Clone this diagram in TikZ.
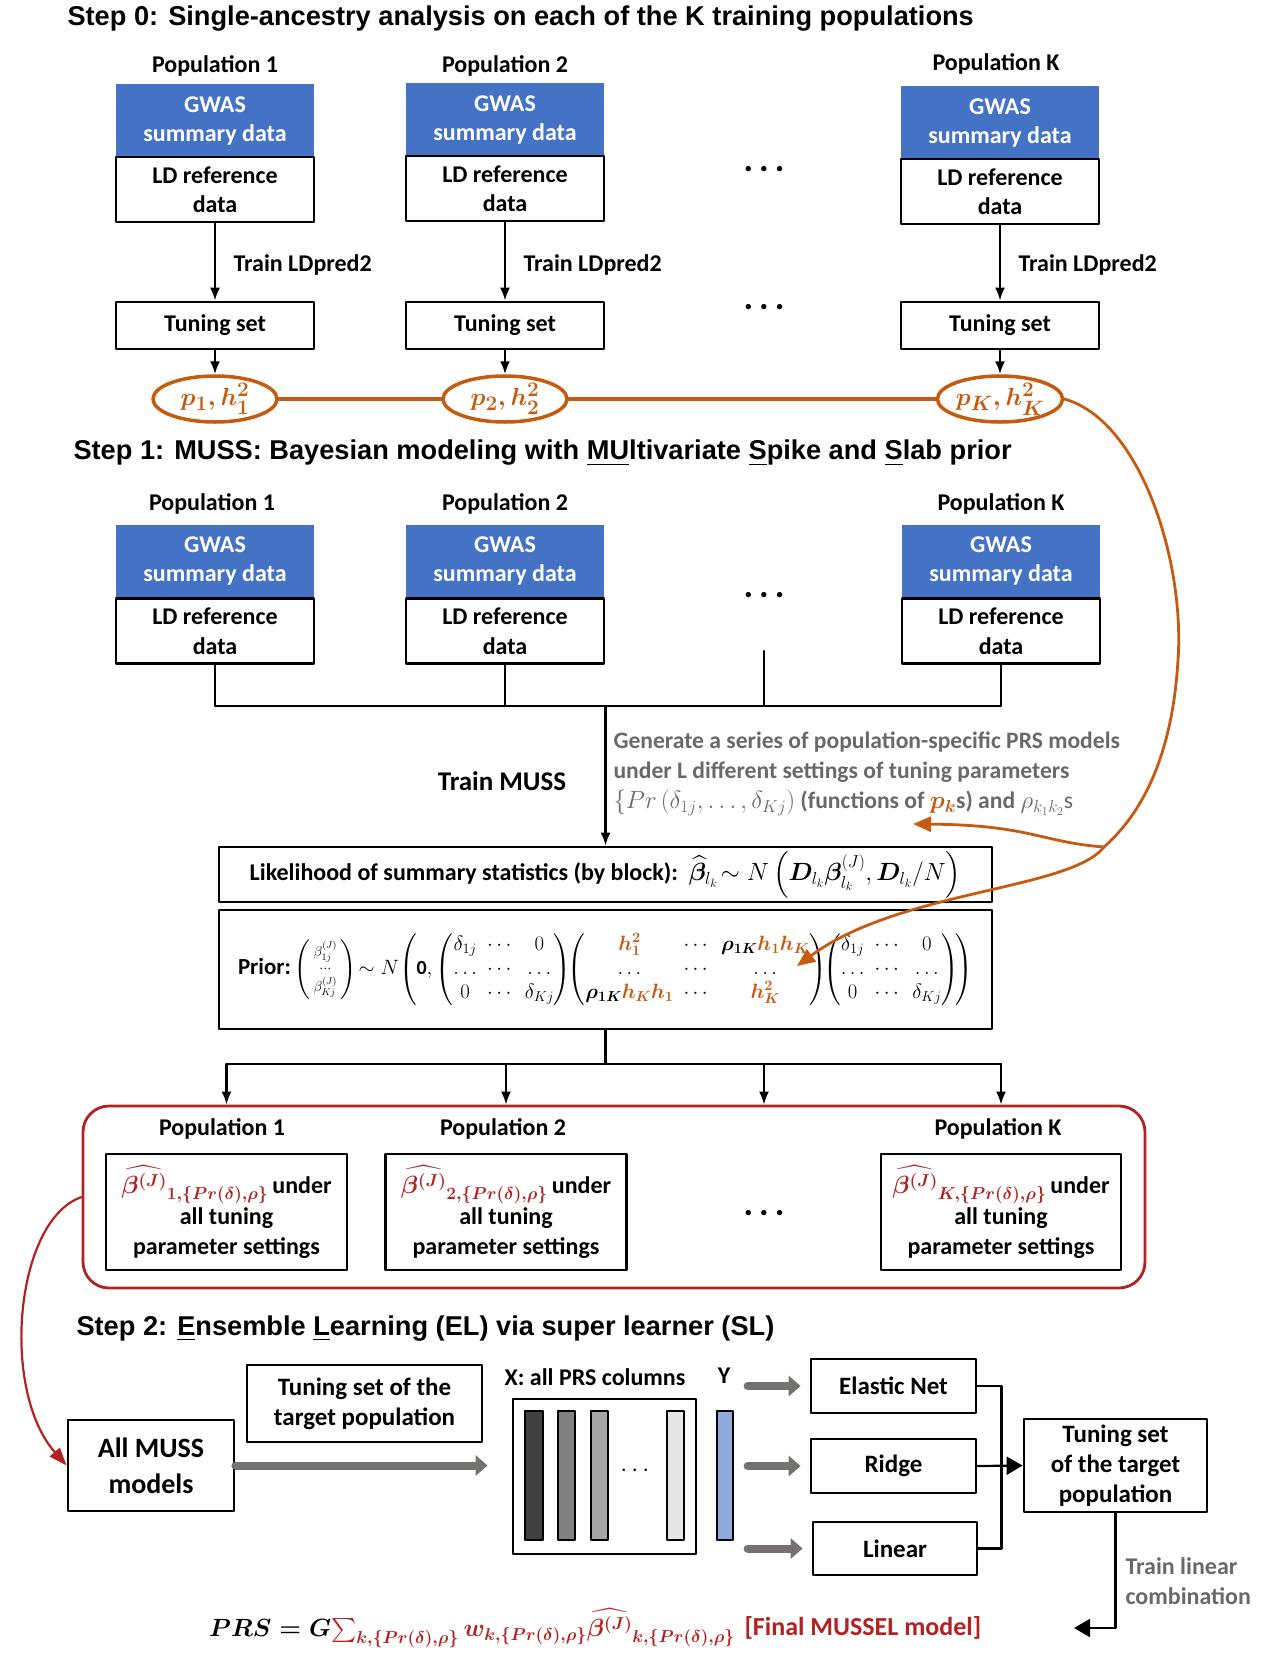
\documentclass[tikz,border=0pt]{standalone}
\usepackage{amsmath,amssymb,mathtools,bm}
\usepackage{fontspec}
\setmainfont{Carlito}
\newfontfamily\titlefam{Liberation Sans}
\usepackage{tikz}
\definecolor{gwasblue}{RGB}{68,114,196}
\definecolor{hcol}{RGB}{197,90,17}
\definecolor{elred}{RGB}{178,34,34}
\definecolor{notegray}{RGB}{105,105,105}
\definecolor{fatgray}{RGB}{118,113,113}
\definecolor{ycolor}{RGB}{143,170,220}
\usetikzlibrary{arrows.meta,shapes.geometric}
\tikzset{
    boxfont/.style = {font=\fontsize{24}{29.5}\selectfont\bfseries},
    steptitle/.style = {anchor=west, font=\titlefam\fontsize{27.2}{30}\selectfont\bfseries},
    gwasbox/.style = {boxfont, fill=gwasblue, text=white, align=center, minimum width=198pt, minimum height=73pt, inner sep=0pt},
    ldbox/.style = {boxfont, draw, line width=2.8pt, align=center, minimum width=198pt, minimum height=65pt, inner sep=0pt},
    plainbox/.style = {boxfont, draw, line width=2.8pt, align=center, inner sep=0pt},
    hval/.style = {ellipse, draw=hcol, line width=3.5pt, text=hcol, minimum width=124pt, minimum height=46pt, inner sep=0pt, font=\fontsize{28}{30}\selectfont\boldmath},
    dots/.style = {font=\fontsize{36}{36}\selectfont\bfseries},
    conn/.style = {line width=2.2pt, -{Latex[length=13pt,width=10pt]}},
    bus/.style = {line width=2.2pt},
    hline/.style = {draw=hcol, line width=3.5pt},
    harrow/.style = {draw=hcol, line width=2.8pt, -{Triangle[length=18pt,width=15pt]}},
    fat/.style = {draw=fatgray, line width=8pt, -{Triangle[length=12pt,width=20pt]}},
    notefont/.style = {font=\fontsize{23.6}{30}\selectfont\bfseries, text=notegray}
}
\newcommand{\hb}[1]{\textcolor{hcol}{\bm{#1}}}
\newcommand{\prd}{\{Pr(\delta),\rho\}}

\begin{document}
\begin{tikzpicture}[x=1pt, y=-1pt, line cap=round, line join=round]
\useasboundingbox (0,0) rectangle (1268,1659);

\node[steptitle] (s0) at (64,19) {Step 0: Single-ancestry analysis on each of the K training populations};
\node[boxfont] (p0a) at (215,66) {Population 1};
\node[boxfont] (p0b) at (505,66) {Population 2};
\node[boxfont] (p0k) at (996,64) {Population K};
\node[gwasbox] (g0a) at (215,121) {GWAS\\summary data};
\node[gwasbox] (g0b) at (505,120) {GWAS\\summary data};
\node[gwasbox] (g0k) at (1000,123) {GWAS\\summary data};
\node[ldbox] (l0a) at (215,189.5) {LD reference\\data};
\node[ldbox] (l0b) at (505,188.5) {LD reference\\data};
\node[ldbox] (l0k) at (1000,191.5) {LD reference\\data};
\node[dots] (d0a) at (764,169) {.\,.\,.};
\node[boxfont, anchor=west] (tr0a) at (230,265) {Train LDpred2};
\node[boxfont, anchor=west] (tr0b) at (520,265) {Train LDpred2};
\node[boxfont, anchor=west] (tr0k) at (1015,265) {Train LDpred2};
\node[plainbox, minimum width=198pt, minimum height=47pt] (t0a) at (215,325.5) {Tuning set};
\node[plainbox, minimum width=198pt, minimum height=47pt] (t0b) at (505,325.5) {Tuning set};
\node[plainbox, minimum width=198pt, minimum height=47pt] (t0k) at (1000,325.5) {Tuning set};
\node[dots] (d0b) at (764,307) {.\,.\,.};
\node[hval] (ha) at (215,399) {$p_1, h_1^2$};
\node[hval] (hb) at (505,399) {$p_2, h_2^2$};
\node[hval] (hk) at (1000,399) {$p_K, h_K^2$};
\draw[conn] (l0a.south) -- (t0a.north);
\draw[conn] (l0b.south) -- (t0b.north);
\draw[conn] (l0k.south) -- (t0k.north);
\draw[conn] (t0a.south) -- (ha.north);
\draw[conn] (t0b.south) -- (hb.north);
\draw[conn] (t0k.south) -- (hk.north);
\draw[hline] (ha.east) -- (hb.west);
\draw[hline] (hb.east) -- (hk.west);

\node[steptitle] (s1) at (70,453) {Step 1: MUSS: Bayesian modeling with \underline{MU}ltivariate \underline{S}pike and \underline{S}lab prior};
\node[boxfont] (p1a) at (212,504) {Population 1};
\node[boxfont] (p1b) at (505,504) {Population 2};
\node[boxfont] (p1k) at (1001,504) {Population K};
\node[gwasbox] (g1a) at (215,561) {GWAS\\summary data};
\node[gwasbox] (g1b) at (505,561) {GWAS\\summary data};
\node[gwasbox] (g1k) at (1001,561) {GWAS\\summary data};
\node[ldbox] (l1a) at (215,631) {LD reference\\data};
\node[ldbox] (l1b) at (505,631) {LD reference\\data};
\node[ldbox] (l1k) at (1001,631) {LD reference\\data};
\node[dots] (d1) at (764,595) {.\,.\,.};
\coordinate (d1end) at (764,651);
\coordinate (bus1) at (0,706);
\draw[bus] (l1a.south) -- (l1a.south |- bus1) -| (l1k.south);
\draw[bus] (l1b.south) -- (l1b.south |- bus1);
\draw[bus] (d1end) -- (d1end |- bus1);

\node[font=\fontsize{27}{30}\selectfont\bfseries] (trmuss) at (502,781) {Train MUSS};
\node[notefont, anchor=west, align=left] (note) at (610,774) {Generate a series of population-specific PRS models\\under L different settings of tuning parameters\\$\{Pr\left(\delta_{1j},\ldots,\delta_{Kj}\right)$ (functions of {\boldmath$\textcolor{hcol}{p_k}$}s) and $\rho_{k_1k_2}$\mdseries s};

\node[plainbox, minimum width=773pt, minimum height=55pt, font=\fontsize{24}{28}\selectfont\bfseries] (lik) at (605.5,874.5) {Likelihood of summary statistics (by block):\ \ {\fontsize{26}{28}\selectfont$\widehat{\bm\beta}_{l_k}\!\sim N\left(\bm{D}_{l_k}\bm{\beta}^{(J)}_{l_k},\bm{D}_{l_k}/N\right)$}};
\draw[conn] (lik.north |- bus1) -- (lik.north);

\node[plainbox, minimum width=773pt, minimum height=119pt, font=\fontsize{20}{24}\selectfont\bfseries] (prior) at (605.5,969.5) {{\fontsize{23}{28}\selectfont Prior:}\,$\left(\begin{smallmatrix}\beta^{(J)}_{1j}\\[2pt] \cdots\\[2pt] \beta^{(J)}_{Kj}\end{smallmatrix}\right)\!\sim N\!\left(\mathbf{0},\begin{pmatrix}\delta_{1j} & \cdots & 0\\ \ldots & \cdots & \ldots\\ 0 & \cdots & \delta_{Kj}\end{pmatrix}\!\!\begin{pmatrix}\hb{h_1^2} & \cdots & \bm{\rho_{1K}}\hb{h_1h_K}\\ \ldots & \cdots & \ldots\\ \bm{\rho_{1K}}\hb{h_Kh_1} & \cdots & \hb{h_K^2}\end{pmatrix}\!\!\begin{pmatrix}\delta_{1j} & \cdots & 0\\ \ldots & \cdots & \ldots\\ 0 & \cdots & \delta_{Kj}\end{pmatrix}\!\right)$};

\coordinate (fork) at (1104,847);
\coordinate (pktip) at (913,824);
\coordinate (priortip) at (797,966);
\draw[hline, line width=2.8pt] (hk.east) .. controls (1140,420) and (1185,560) .. (1178,660) .. controls (1172,760) and (1140,815) .. (fork);
\draw[harrow] (fork) .. controls (1070,890) and (900,890) .. (priortip);
\draw[harrow] (fork) .. controls (1040,842) and (1030,825) .. (pktip);

\node[draw=elred, line width=2.8pt, rounded corners=26pt, minimum width=1062pt, minimum height=182pt] (allpops) at (614,1197) {};
\node[boxfont] (p2a) at (222,1129) {Population 1};
\node[boxfont] (p2b) at (503,1129) {Population 2};
\node[boxfont] (p2k) at (998,1129) {Population K};
\node[plainbox, minimum width=241pt, minimum height=116pt] (ba) at (226.5,1212) {{\boldmath\color{elred}$\widehat{\beta^{(J)}}_{1,\prd}$}\,under\\[2pt]all tuning\\parameter settings};
\node[plainbox, minimum width=241pt, minimum height=116pt] (bb) at (506,1212) {{\boldmath\color{elred}$\widehat{\beta^{(J)}}_{2,\prd}$}\,under\\[2pt]all tuning\\parameter settings};
\node[plainbox, minimum width=240pt, minimum height=116pt] (bk) at (1001,1212) {{\boldmath\color{elred}$\widehat{\beta^{(J)}}_{K,\prd}$}\,under\\[2pt]all tuning\\parameter settings};
\node[dots] (d2) at (764,1213) {.\,.\,.};
\coordinate (bus2) at (0,1064);
\draw[bus] (prior.south) -- (prior.south |- bus2);
\draw[bus] (ba.north |- bus2) -- (bk.north |- bus2);
\draw[conn] (ba.north |- bus2) -- (ba.north |- allpops.north);
\draw[conn] (bb.north |- bus2) -- (bb.north |- allpops.north);
\draw[conn] (d2 |- bus2) -- (d2 |- allpops.north);
\draw[conn] (bk.north |- bus2) -- (bk.north |- allpops.north);

\node[steptitle] (s2) at (73,1329) {Step 2: \underline{E}nsemble \underline{L}earning (EL) via super learner (SL)};
\node[plainbox, minimum width=166pt, minimum height=91pt, font=\fontsize{28}{36}\selectfont\bfseries] (muss) at (151,1465.5) {All MUSS\\models};
\node[plainbox, minimum width=235pt, minimum height=77pt, font=\fontsize{25}{30}\selectfont\bfseries] (tgtpop) at (364.5,1403.5) {Tuning set of the\\target population};
\draw[elred, line width=2.2pt, -{Triangle[length=18pt,width=13pt]}] (allpops.west) .. controls (15,1220) and (0,1390) .. (muss.west);
\node[boxfont] (xlab) at (595,1377) {X: all PRS columns};
\node[boxfont] (ylab) at (724,1376) {Y};
\node[draw, line width=2.8pt, minimum width=183pt, minimum height=155pt] (prsmat) at (604.5,1476.5) {};
\draw[line width=1.2pt, fill={rgb,255:red,64;green,64;blue,64}] (525,1411) rectangle (543,1540);
\draw[line width=1.2pt, fill={rgb,255:red,128;green,128;blue,128}] (558,1411) rectangle (575,1540);
\draw[line width=1.2pt, fill={rgb,255:red,166;green,166;blue,166}] (591,1411) rectangle (608,1540);
\draw[line width=1.2pt, fill={rgb,255:red,231;green,230;blue,230}] (667,1411) rectangle (684,1540);
\node[font=\fontsize{24}{24}\selectfont] (cdots) at (637,1471) {$\cdots$};
\node[draw, line width=1.2pt, fill=ycolor, minimum width=16pt, minimum height=129pt, inner sep=0pt] (ycol) at (725,1475.5) {};
\draw[fat, shorten >=24pt] (muss.east) -- (muss.east -| prsmat.west);

\node[plainbox, minimum width=165pt, minimum height=54pt, font=\fontsize{25}{30}\selectfont\bfseries] (en) at (893.5,1386) {Elastic Net};
\node[plainbox, minimum width=165pt, minimum height=54pt, font=\fontsize{25}{30}\selectfont\bfseries] (ridge) at (893.5,1466) {Ridge};
\node[plainbox, minimum width=164pt, minimum height=53pt, font=\fontsize{25}{30}\selectfont\bfseries] (linear) at (895,1548.5) {Linear};
\draw[fat, shorten <=14pt, shorten >=9pt] (ycol.east |- en.west) -- (en.west);
\draw[fat, shorten <=14pt, shorten >=9pt] (ycol.east |- ridge.west) -- (ridge.west);
\draw[fat, shorten <=14pt, shorten >=9pt] (ycol.east |- linear.west) -- (linear.west);
\node[plainbox, minimum width=183pt, minimum height=93pt, font=\fontsize{25}{30}\selectfont\bfseries] (tgt) at (1115.5,1465.5) {Tuning set\\of the target\\population};
\draw[bus] (en.east) -- ++(24,0) |- (linear.east);
\draw[line width=2.2pt, -{Triangle[length=16pt,width=18pt]}] (ridge.east) -- (tgt.west);

\coordinate (linend) at (1074,1628);
\draw[line width=2.2pt, -{Triangle[length=16pt,width=18pt]}] (tgt.south) |- (linend);
\node[notefont, font=\fontsize{24}{30}\selectfont\bfseries, anchor=west, align=left] (trlin) at (1122,1581) {Train linear\\combination};
\node[font=\fontsize{24}{30}\selectfont\boldmath] (prsf) at (472,1628) {$PRS = G\textcolor{elred}{\sum_{k,\prd} w_{k,\prd}\widehat{\beta^{(J)}}_{k,\prd}}$};
\node[font=\fontsize{26}{30}\selectfont\bfseries, text=elred, anchor=west] (final) at (741,1628) {[Final MUSSEL model]};
\end{tikzpicture}
\end{document}
